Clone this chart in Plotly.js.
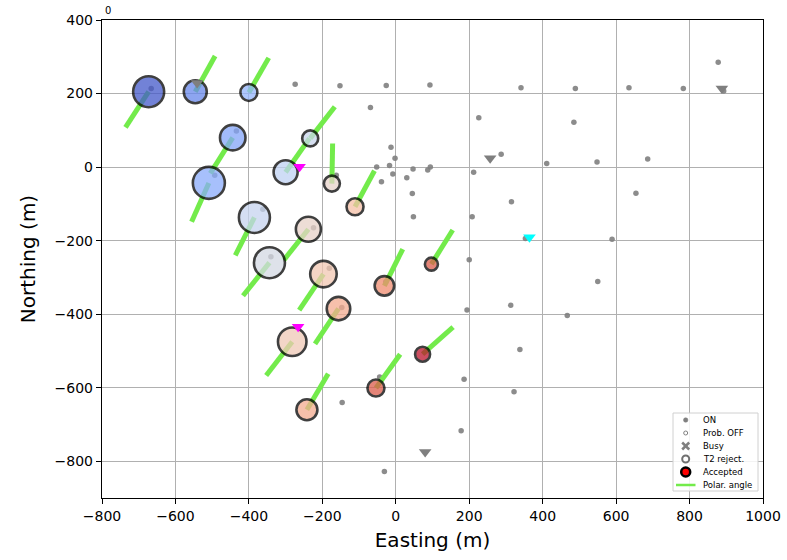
<!DOCTYPE html>
<html><head><meta charset="utf-8">
<script src="https://cdn.plot.ly/plotly-3.0.1.min.js"></script>
<style>html,body{margin:0;padding:0;background:#fff}#chart{width:787px;height:560px}</style>
</head><body><div id="chart"></div>
<script>
// Accepted stations (circle centres, metres)
const accEast  = [-673, -546, -400, -444, -509, -385, -344, -233, -300, -174, -111, -238, -197, -156, -31, 97, -282, 73, -54, -242];
const accNorth = [205, 205, 203, 80, -43, -137, -260, 78, -14, -45, -108, -169, -291, -385, -323, -264, -475, -509, -601, -660];
const accSignal = [31, 23, 17, 25.5, 32, 31, 31, 16, 24, 16, 17, 25, 26.5, 23.5, 19.5, 13, 28.5, 15, 17, 21];
const accTime  = [0.03, 0.14, 0.27, 0.22, 0.24, 0.42, 0.47, 0.43, 0.40, 0.55, 0.64, 0.55, 0.61, 0.70, 0.78, 0.88, 0.60, 0.98, 0.88, 0.70];
// Polar angle segments: end points (start at station)
const polEast  = [-736, -492, -346, -505, -556, -437, -416, -166, -235, -172, -58, -305, -263, -220, 19, 155, -353, 156, 12, -184];
const polNorth = [108, 302, 297, -17, -149, -240, -350, 164, 78, 64, -10, -253, -389, -481, -223, -171, -567, -435, -509, -562];
// ON stations
const onEast  = [-274, -152, -26, 93, -69, -13, -2, -52, -17, -8, -39, 47, 30, 87, 94, 45, 48, -666, -434, -493, -362, -162, -224, -340,
                 341, 489, 635, 783, 878, 893, 226, 485, 287, 411, 548, 686, 212, 315, 208, 353, 589, 200, 550, 313, 194, 467, 338, 186, 322, 178,
                 -146, -31, -44, -181, -147, -27, 654];
const onNorth = [225, 221, 222, 223, 162, 54, 24, 0, 4, -19, -40, -5, -29, -8, 0, -72, -135, 214, 98, -22, -115, -22, -165, -244,
                 216, 214, 216, 214, 285, 207, 134, 122, 35, 10, 14, 22, -14, -94, -135, -194, -196, -252, -311, -376, -389, -404, -496, -577, -611, -717,
                 -640, -828, -571, -275, -382, -312, -71];
// Down-triangle markers
const triGrayEast  = [-541, 257, 888, 80];
const triGrayNorth = [229, 24, 214, -775];
const triMagEast  = [-262, -266];
const triMagNorth = [1, -434];
const triCyanEast  = [364];
const triCyanNorth = [-191];
// Axis ticks
const xTicks = [-800, -600, -400, -200, 0, 200, 400, 600, 800, 1000];
const yTicks = [-800, -600, -400, -200, 0, 200, 400];
// Legend labels
const legendLabels = ['ON', 'Prob. OFF', 'Busy', 'T2 reject.', 'Accepted', 'Polar. angle'];

const coolwarm = [[0,'#3b4cc0'],[0.125,'#6282ea'],[0.25,'#8db0fe'],[0.375,'#b9d0f9'],[0.5,'#dddcdc'],
                  [0.625,'#f5c4ac'],[0.75,'#f49a7b'],[0.875,'#de604d'],[1,'#b40426']];
const green = 'rgb(115,235,75)';
const gray = '#7f7f7f';

const lx = [], ly = [];
accEast.forEach((e, i) => { lx.push(e, polEast[i], null); ly.push(accNorth[i], polNorth[i], null); });

const font = 'DejaVu Sans, Arial, sans-serif';
const traces = [
  {type:'scatter', mode:'markers', x:onEast, y:onNorth, name:'ON',
   marker:{size:5.5, color:gray, opacity:0.9}, hoverinfo:'skip'},
  {type:'scatter', mode:'lines', x:lx, y:ly, name:'Polar. angle',
   line:{color:green, width:5}, hoverinfo:'skip'},
  {type:'scatter', mode:'markers', x:accEast, y:accNorth, name:'Accepted',
   marker:{size:accSignal, sizemode:'diameter', color:accTime, colorscale:coolwarm, cmin:0, cmax:1,
           opacity:0.75, line:{color:'#000', width:2.6}}},
  {type:'scatter', mode:'markers', x:triGrayEast, y:triGrayNorth,
   marker:{symbol:'triangle-down', size:11, color:gray}},
  {type:'scatter', mode:'markers', x:triMagEast, y:triMagNorth,
   marker:{symbol:'triangle-down', size:11, color:'#ff00ff'}},
  {type:'scatter', mode:'markers', x:triCyanEast, y:triCyanNorth,
   marker:{symbol:'triangle-down', size:11, color:'#00ffff'}}
];

// Compact legend box (paper coordinates of the plot area)
const L = 102, R = 763, T = 20, B = 498;
const px = v => (v - L) / (R - L);
const py = v => (B - v) / (B - T);
const rowY = [420, 433, 446, 459, 472, 485].map(py);
const symX = px(685.7), txtX = px(701);
function dot(i, d, fill, edge, w) {
  return {type:'circle', xref:'paper', yref:'paper', xsizemode:'pixel', ysizemode:'pixel',
    xanchor:symX, yanchor:rowY[i], x0:-d/2, x1:d/2, y0:-d/2, y1:d/2,
    fillcolor:fill, line:{color:edge, width:w}};
}
function seg(i, a, b, c, d, col, w) {
  return {type:'line', xref:'paper', yref:'paper', xsizemode:'pixel', ysizemode:'pixel',
    xanchor:symX, yanchor:rowY[i], x0:a, y0:b, x1:c, y1:d, line:{color:col, width:w}};
}
const shapes = [
  {type:'rect', xref:'paper', yref:'paper', x0:px(673), x1:px(758), y0:py(491), y1:py(413),
   fillcolor:'rgba(255,255,255,0.85)', line:{color:'#d0d0d0', width:1}},
  dot(0, 4.5, gray, gray, 0.5),
  dot(1, 4, 'white', gray, 1),
  seg(2, -3.5, -3.5, 3.5, 3.5, gray, 2.5),
  seg(2, -3.5, 3.5, 3.5, -3.5, gray, 2.5),
  dot(3, 7, 'white', '#6f6f6f', 2),
  dot(4, 9, 'red', 'black', 2.5),
  {type:'line', xref:'paper', yref:'paper', x0:px(676), x1:px(695.5), y0:rowY[5], y1:rowY[5],
   line:{color:green, width:2.5}}
];
const annotations = legendLabels.map((t, i) => ({xref:'paper', yref:'paper', x:txtX, y:rowY[i], text:t,
  showarrow:false, xanchor:'left', yanchor:'middle', font:{family:font, size:8.5, color:'#000'}}));
annotations.push({xref:'paper', yref:'paper', x:0.009, y:1.019, text:'0', showarrow:false,
  xanchor:'center', yanchor:'middle', font:{family:font, size:10, color:'#000'}});

const axisBase = {showgrid:true, gridcolor:'#b0b0b0', gridwidth:1, zeroline:false, showline:true,
  linecolor:'#000', linewidth:1.2, mirror:true, ticks:'outside', ticklen:5, tickcolor:'#000',
  tickfont:{family:font, size:14, color:'#000'}};
const minus = s => String(s).replace('-', '\u2212');

const layout = {
  width:787, height:560, paper_bgcolor:'#fff', plot_bgcolor:'#fff',
  margin:{l:L, r:787-R, t:T, b:560-B},
  font:{family:font, color:'#000'},
  showlegend:false,
  xaxis:Object.assign({}, axisBase, {range:[-800,1000], tickvals:xTicks, ticktext:xTicks.map(minus),
    title:{text:'Easting (m)', font:{family:font, size:20}, standoff:10}}),
  yaxis:Object.assign({}, axisBase, {range:[-900,400], tickvals:yTicks, ticktext:yTicks.map(minus),
    title:{text:'Northing (m)', font:{family:font, size:20}, standoff:13}}),
  shapes:shapes,
  annotations:annotations
};
Plotly.newPlot('chart', traces, layout, {displayModeBar:false, staticPlot:true});
</script></body></html>
